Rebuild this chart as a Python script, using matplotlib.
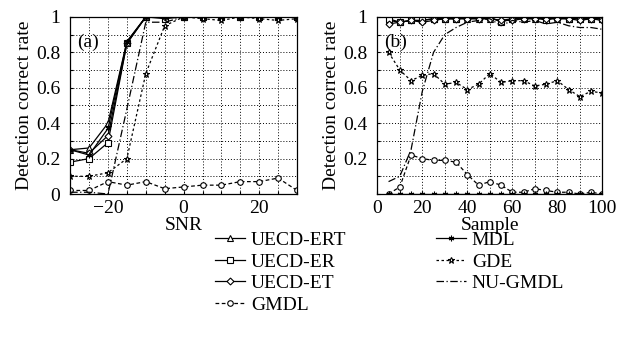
import matplotlib.pyplot as plt
import numpy as np

plt.rcParams['font.family'] = ['Liberation Serif', 'DejaVu Serif']
plt.rcParams['font.size'] = 14

# (a) SNR sweep
snr = [-30, -25, -20, -15, -10, -5, 0, 5, 10, 15, 20, 25, 30]
a_ert = [0.25, 0.26, 0.40, 0.86, 1.00, 1.00, 1.00, 1.00, 1.00, 1.00, 1.00, 1.00, 1.00]
a_er = [0.18, 0.20, 0.29, 0.85, 1.00, 0.99, 1.00, 1.00, 1.00, 1.00, 1.00, 1.00, 1.00]
a_et = [0.25, 0.23, 0.33, 0.85, 1.00, 1.00, 1.00, 1.00, 1.00, 1.00, 1.00, 1.00, 1.00]
a_gmdl = [0.02, 0.02, 0.07, 0.05, 0.07, 0.03, 0.04, 0.05, 0.05, 0.07, 0.07, 0.09, 0.02]
a_mdl = [0.25, 0.22, 0.37, 0.86, 1.00, 1.00, 1.00, 1.00, 1.00, 1.00, 1.00, 1.00, 1.00]
a_gde = [0.10, 0.10, 0.12, 0.20, 0.68, 0.95, 1.00, 0.99, 0.98, 1.00, 0.99, 0.98, 0.99]
a_nu = [0.01, 0.01, 0.00, 0.48, 0.97, 0.97, 1.00, 1.00, 1.00, 1.00, 1.00, 1.00, 1.00]

# (b) sample sweep
samp = [5, 10, 15, 20, 25, 30, 35, 40, 45, 50, 55, 60, 65, 70, 75, 80, 85, 90, 95, 100]
b_ert = [0.98, 0.97, 0.98, 0.98, 0.99, 0.99, 0.99, 0.99, 0.99, 0.99, 0.98, 0.99, 0.99, 0.99, 0.99, 0.99, 0.99, 0.99, 0.99, 0.99]
b_er = [0.99, 0.97, 0.98, 0.98, 0.99, 0.99, 0.99, 1.00, 1.00, 1.00, 0.97, 0.99, 1.00, 1.00, 0.98, 1.00, 0.99, 0.99, 0.99, 0.99]
b_et = [0.96, 0.97, 0.98, 0.97, 0.98, 0.99, 0.99, 0.99, 0.99, 0.99, 0.98, 0.98, 0.99, 0.99, 0.99, 0.99, 0.99, 0.98, 0.99, 0.98]
b_gmdl = [0.00, 0.04, 0.22, 0.20, 0.19, 0.19, 0.18, 0.11, 0.05, 0.07, 0.05, 0.01, 0.01, 0.03, 0.02, 0.01, 0.01, 0.00, 0.01, 0.00]
b_mdl = [0.00] * 20
b_gde = [0.80, 0.70, 0.64, 0.67, 0.68, 0.62, 0.63, 0.59, 0.62, 0.68, 0.63, 0.64, 0.64, 0.61, 0.62, 0.64, 0.59, 0.55, 0.58, 0.57]
b_nu = [0.07, 0.10, 0.25, 0.58, 0.80, 0.90, 0.94, 0.97, 0.98, 0.99, 0.95, 0.98, 0.97, 0.98, 0.96, 0.97, 0.95, 0.94, 0.94, 0.93]

names = ['UECD-ERT', 'UECD-ER', 'UECD-ET', 'GMDL', 'MDL', 'GDE', 'NU-GMDL']
styles = [
    dict(ls='-', marker='^'),
    dict(ls='-', marker='s'),
    dict(ls='-', marker='D', ms=3.5),
    dict(ls=(0, (3, 2)), marker='o'),
    dict(ls='-', marker=(6, 2, 0)),
    dict(ls=(0, (2, 2)), marker='*', ms=5),
    dict(ls=(0, (6, 2, 1, 2)), marker=None),
]

fig = plt.figure(figsize=(6.32, 3.38), dpi=100)
ax1 = fig.add_axes([0.111, 0.426, 0.359, 0.524])
ax2 = fig.add_axes([0.597, 0.426, 0.356, 0.524])

series_a = [a_ert, a_er, a_et, a_gmdl, a_mdl, a_gde, a_nu]
series_b = [b_ert, b_er, b_et, b_gmdl, b_mdl, b_gde, b_nu]

for ax, x, series in [(ax1, snr, series_a), (ax2, samp, series_b)]:
    for name, y, st in zip(names, series, styles):
        kw = dict(color='black', lw=0.9, ms=st.get('ms', 4), mfc='white', mec='black', mew=0.8)
        ax.plot(x, y, ls=st['ls'], marker=st['marker'], label=name, **kw)
    ax.set_ylim(0, 1)
    ax.set_yticks(np.arange(0, 1.01, 0.1))
    ax.grid(True, color='black', ls=(0, (1, 2)), lw=0.7)
    ax.tick_params(direction='in', length=2, labelsize=14)
    ax.tick_params(axis='y', pad=7)
    ax.tick_params(axis='x', pad=4)
    ax.set_ylabel('Detection correct rate', fontsize=14, labelpad=2)
    for s in ax.spines.values():
        s.set_linewidth(0.9)

ylabels = ['0', '', '0.2', '', '0.4', '', '0.6', '', '0.8', '', '1']
ax1.set_yticklabels(ylabels)
ax2.set_yticklabels([''] + ylabels[1:])

ax1.set_xlim(-30, 30)
ax1.set_xticks(np.arange(-30, 31, 5))
ax1.set_xticklabels(['' if v % 20 else ('\u221220' if v == -20 else str(v)) for v in range(-30, 31, 5)])
ax1.set_xlabel('SNR', fontsize=14, labelpad=0)
ax1.text(0.03, 0.83, '(a)', transform=ax1.transAxes, fontsize=14)

ax2.set_xlim(0, 100)
ax2.set_xticks(np.arange(0, 101, 10))
ax2.set_xticklabels([str(v) if v % 20 == 0 else '' for v in range(0, 101, 10)])
ax2.set_xlabel('Sample', fontsize=14, labelpad=0)
ax2.text(0.03, 0.83, '(b)', transform=ax2.transAxes, fontsize=14)

handles, labels = ax1.get_legend_handles_labels()
fig.legend(handles, labels, loc='upper left', bbox_to_anchor=(0.34, 0.315),
           ncol=2, frameon=False, fontsize=14, handlelength=1.55, handletextpad=0.3,
           columnspacing=4.6, labelspacing=0.2, borderpad=0, borderaxespad=0)

fig.savefig('out.png', dpi=100)
